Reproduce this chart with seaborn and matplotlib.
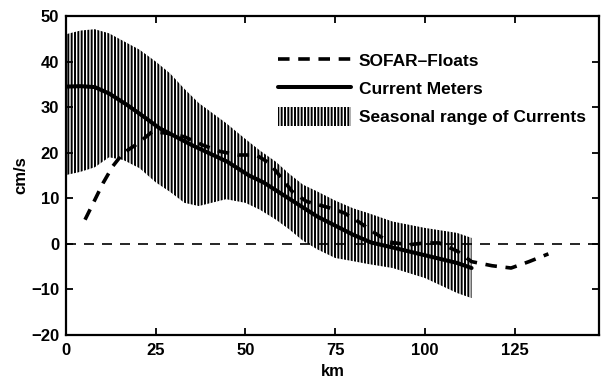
import numpy as np
import pandas as pd
import matplotlib
matplotlib.use("Agg")
import matplotlib.pyplot as plt
import seaborn as sns
from matplotlib.patches import Patch
from matplotlib.lines import Line2D

# ---- data ----
cm_km = [0, 4, 8, 12, 17, 21.5, 26, 35, 45, 51, 55, 60, 65, 70, 75, 80, 85, 91, 100, 109, 113]
cm_val = [34.5, 34.6, 34.4, 33, 30.5, 28, 25.4, 21.7, 18, 15, 13.5, 11, 8.5, 6, 4, 2, 0.3, -0.8, -2.5, -4.2, -5.3]

band_hi_km = [0, 4, 8, 12, 16, 20.5, 25, 29, 33, 37, 44.6, 50, 54, 58.5, 62, 66, 70, 75, 80, 84, 91, 100, 109, 113]
band_hi = [46, 46.8, 47.1, 46.2, 44.5, 42.6, 40, 37.4, 34, 30.9, 26.5, 23, 20.5, 18, 15.5, 13, 11.5, 9.5, 7.8, 6.8, 4.9, 3.5, 2.4, 1.3]
band_lo = [15.1, 15.8, 16.8, 19.0, 18.4, 16.6, 13.5, 11.4, 9.0, 8.3, 9.8, 9.0, 7.5, 5.3, 3.3, 0.7, -1.2, -3.1, -3.8, -4.4, -5.3, -7.5, -10.8, -11.9]

sofar_km = [5.3, 8, 10.3, 13, 15.9, 20, 24, 28, 33, 38, 42.8, 48, 53, 56.7, 60, 63, 67, 73, 77.5,
            82, 86, 90, 95.5, 100, 104, 109, 113, 118.7, 124, 129, 134.4]
sofar_val = [5.3, 9.6, 13.3, 17, 19.9, 22, 24.6, 24.3, 23.5, 21.7, 20.3, 19.5, 19.5, 17.7, 14.5, 11.5, 9.3,
             8.0, 6.8, 4.6, 2.4, 0.4, -0.2, 0.2, 0.2, -1.6, -3.9, -4.8, -5.3, -3.9, -2.2]

xticks = [0, 25, 50, 75, 100, 125]
yticks = [-20, -10, 0, 10, 20, 30, 40, 50]

sns.set_theme(style="ticks")
plt.rcParams['font.family'] = ['Liberation Sans', 'DejaVu Sans']
plt.rcParams['font.weight'] = 'bold'
plt.rcParams['text.color'] = 'black'
plt.rcParams['axes.labelcolor'] = 'black'
plt.rcParams['xtick.color'] = 'black'
plt.rcParams['ytick.color'] = 'black'
plt.rcParams['hatch.linewidth'] = 1.4
plt.rcParams['hatch.color'] = 'black'

fig = plt.figure(figsize=(6.03, 3.81), dpi=100)
ax = fig.add_axes([66 / 603, 1 - 335 / 381, 533 / 603, 319 / 381])

ax.fill_between(band_hi_km, band_lo, band_hi, facecolor='none', edgecolor='black',
                hatch='|||||', linewidth=0)

ax.axhline(0, color='black', lw=1.2, dashes=(6, 4.8))

cm_df = pd.DataFrame({'km': cm_km, 'v': cm_val})
sofar_df = pd.DataFrame({'km': sofar_km, 'v': sofar_val})
sns.lineplot(data=cm_df, x='km', y='v', ax=ax, color='black', lw=2.9, sort=False)
sns.lineplot(data=sofar_df, x='km', y='v', ax=ax, color='black', lw=2.6, sort=False)
ax.lines[-1].set_dashes((3.2, 2.4))

ax.set_xlim(0, 148.5)
ax.set_ylim(-20, 50)
ax.set_xticks(xticks)
ax.set_yticks(yticks)
ax.set_xticklabels([str(t) for t in xticks], fontsize=12, fontweight='bold', color='black')
ax.set_yticklabels([str(t).replace('-', '\u2212') for t in yticks], fontsize=12, fontweight='bold', color='black')
ax.tick_params(direction='in', top=True, right=True, length=5, width=1.3, colors='black')
ax.tick_params(axis='x', pad=6)
ax.tick_params(axis='y', pad=5)
for s in ax.spines.values():
    s.set_linewidth(1.6)
    s.set_color('black')
ax.set_xlabel('km', fontsize=12, fontweight='bold', labelpad=4, color='black')
ax.set_ylabel('cm/s', fontsize=12, fontweight='bold', labelpad=2, color='black')

handles = [
    Line2D([0], [0], color='black', lw=2.6, dashes=(3.2, 2.4)),
    Line2D([0], [0], color='black', lw=2.9),
    Patch(facecolor='none', edgecolor='black', hatch='|||||', linewidth=0),
]
labels = ['SOFAR\u2013Floats', 'Current Meters', 'Seasonal range of Currents']
leg = ax.legend(handles, labels, loc='upper left', bbox_to_anchor=((278 - 66) / 533, (335 - 51) / 319),
                frameon=False, handlelength=4.2, handleheight=1.3, handletextpad=0.45,
                labelspacing=0.52, borderpad=0, borderaxespad=0,
                prop={'weight': 'bold', 'size': 12.5})
for t in leg.get_texts():
    t.set_color('black')

fig.savefig('out.png', dpi=100)
